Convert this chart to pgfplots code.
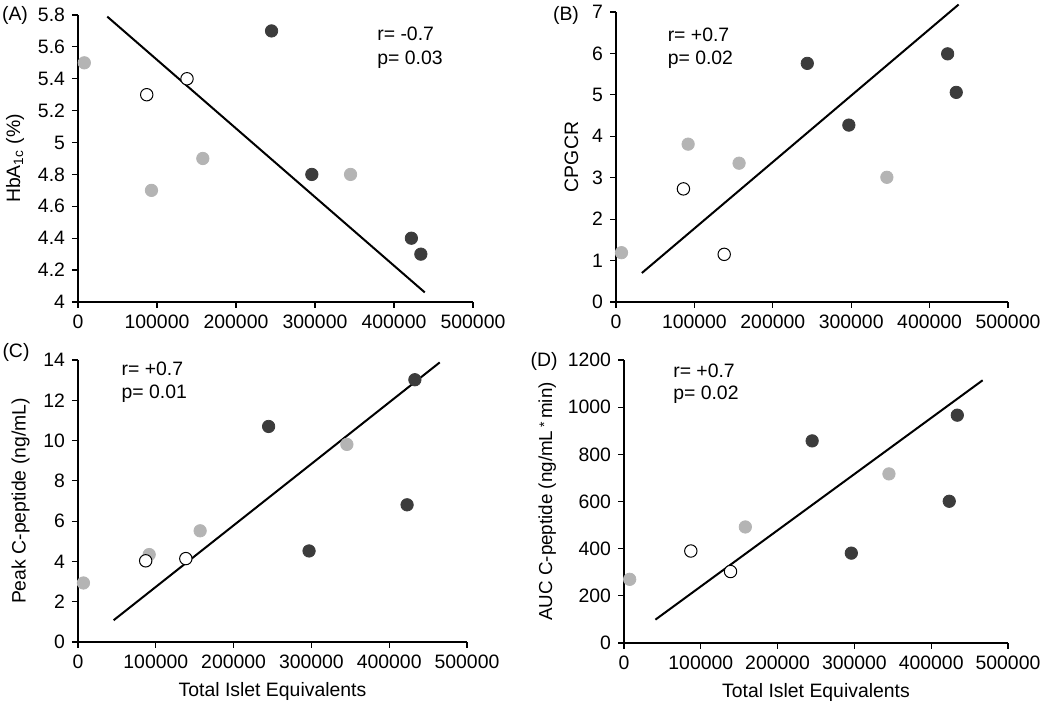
\documentclass[border=0pt]{standalone}
\usepackage{pgfplots}
\pgfplotsset{compat=1.18}
\usepackage{fontspec}
\setmainfont{Liberation Sans}
\definecolor{ltgray}{HTML}{B4B4B4}
\definecolor{dkgray}{HTML}{3C3C3C}

\pgfplotsset{
  panel/.style={
    scale only axis,
    axis lines=left,
    axis line style={-, line width=0.7pt},
    tick align=outside,
    major tick length=3pt,
    tick style={black, line width=0.6pt},
    xmin=0, xmax=500000,
    xtick={0,100000,200000,300000,400000,500000},
    scaled x ticks=false,
    scaled y ticks=false,
    xticklabel style={/pgf/number format/.cd, fixed, 1000 sep={}},
    yticklabel style={/pgf/number format/.cd, 1000 sep={}},
    /pgf/number format/assume math mode=true,
    tick label style={font=\fontsize{9.7}{11.5}\selectfont},
    label style={font=\fontsize{9.7}{11.5}\selectfont},
    clip=false,
  },
  grayd/.style={only marks, mark=*, mark size=3.1pt, color=ltgray},
  openc/.style={only marks, mark=*, mark size=3.1pt, mark options={draw=black, fill=white, line width=0.5pt}},
  darkd/.style={only marks, mark=*, mark size=3.1pt, color=dkgray},
  fit/.style={black, line width=1pt, no marks},
}
\newcommand{\annot}{\fontsize{9.7}{11.5}\selectfont}

\begin{document}
\begin{tikzpicture}
\useasboundingbox (0pt,0pt) rectangle (525pt,352.5pt);

% (A)
\begin{axis}[panel, at={(39pt,201.5pt)}, anchor=south west, width=197.5pt, height=143.5pt,
  ymin=4, ymax=5.8, ytick={4,4.2,4.4,4.6,4.8,5,5.2,5.4,5.6,5.8},
  ylabel={HbA\textsubscript{1c} (\%)}]
\addplot[grayd] coordinates {(8000,5.5) (93000,4.7) (158000,4.9) (345000,4.8)};
\addplot[openc] coordinates {(87000,5.3) (138000,5.4)};
\addplot[darkd] coordinates {(245000,5.7) (296000,4.8) (422000,4.4) (434000,4.3)};
\addplot[fit] coordinates {(37000,5.79) (439000,4.06)};
\node[anchor=west, font=\annot] at (axis cs:370000,5.68) {r= -0.7};
\node[anchor=west, font=\annot] at (axis cs:370000,5.52) {p= 0.03};
\end{axis}
\node[font=\annot] at (7.5pt,345pt) {(A)};

% (B)
\begin{axis}[panel, at={(308pt,201.5pt)}, anchor=south west, width=196pt, height=145pt,
  ymin=0, ymax=7, ytick={0,1,2,3,4,5,6,7},
  ylabel={CPGCR}]
\addplot[grayd] coordinates {(7000,1.19) (92000,3.81) (157000,3.35) (345500,3.01)};
\addplot[openc] coordinates {(86000,2.73) (138000,1.15)};
\addplot[darkd] coordinates {(244000,5.76) (297000,4.27) (423000,5.99) (434000,5.06)};
\addplot[fit] coordinates {(33000,0.70) (437000,7.18)};
\node[anchor=west, font=\annot] at (axis cs:57000,6.46) {r= +0.7};
\node[anchor=west, font=\annot] at (axis cs:57000,5.85) {p= 0.02};
\end{axis}
\node[font=\annot] at (283pt,345pt) {(B)};

% (C)
\begin{axis}[panel, at={(39pt,31.5pt)}, anchor=south west, width=194.5pt, height=141pt,
  ymin=0, ymax=14, ytick={0,2,4,6,8,10,12,14},
  xlabel={Total Islet Equivalents},
  ylabel={Peak C-peptide (ng/mL)}]
\addplot[grayd] coordinates {(7000,2.93) (91500,4.34) (157000,5.52) (345600,9.81)};
\addplot[openc] coordinates {(87000,4.03) (138600,4.14)};
\addplot[darkd] coordinates {(245000,10.70) (297000,4.52) (423000,6.81) (433000,13.02)};
\addplot[fit] coordinates {(45800,1.08) (465000,13.88)};
\node[anchor=west, font=\annot] at (axis cs:47000,13.54) {r= +0.7};
\node[anchor=west, font=\annot] at (axis cs:47000,12.34) {p= 0.01};
\end{axis}
\node[font=\annot] at (8pt,176.5pt) {(C)};

% (D)
\begin{axis}[panel, at={(312pt,31pt)}, anchor=south west, width=192pt, height=141.5pt,
  ymin=0, ymax=1200, ytick={0,200,400,600,800,1000,1200},
  xlabel={Total Islet Equivalents},
  ylabel={AUC C-peptide (ng/mL\,\raisebox{0.3ex}{\scriptsize *}\,min)},
  ylabel style={font=\fontsize{9.4}{11}\selectfont, yshift=-1pt}]
\addplot[grayd] coordinates {(7400,270) (158000,492) (345000,717)};
\addplot[openc] coordinates {(87000,390) (138700,303)};
\addplot[darkd] coordinates {(245000,857) (296000,381) (423500,601) (434000,966)};
\addplot[fit] coordinates {(40900,99) (467000,1114)};
\node[anchor=west, font=\annot] at (axis cs:55000,1153) {r= +0.7};
\node[anchor=west, font=\annot] at (axis cs:55000,1051) {p= 0.02};
\end{axis}
\node[font=\annot] at (272pt,172pt) {(D)};
\end{tikzpicture}
\end{document}
